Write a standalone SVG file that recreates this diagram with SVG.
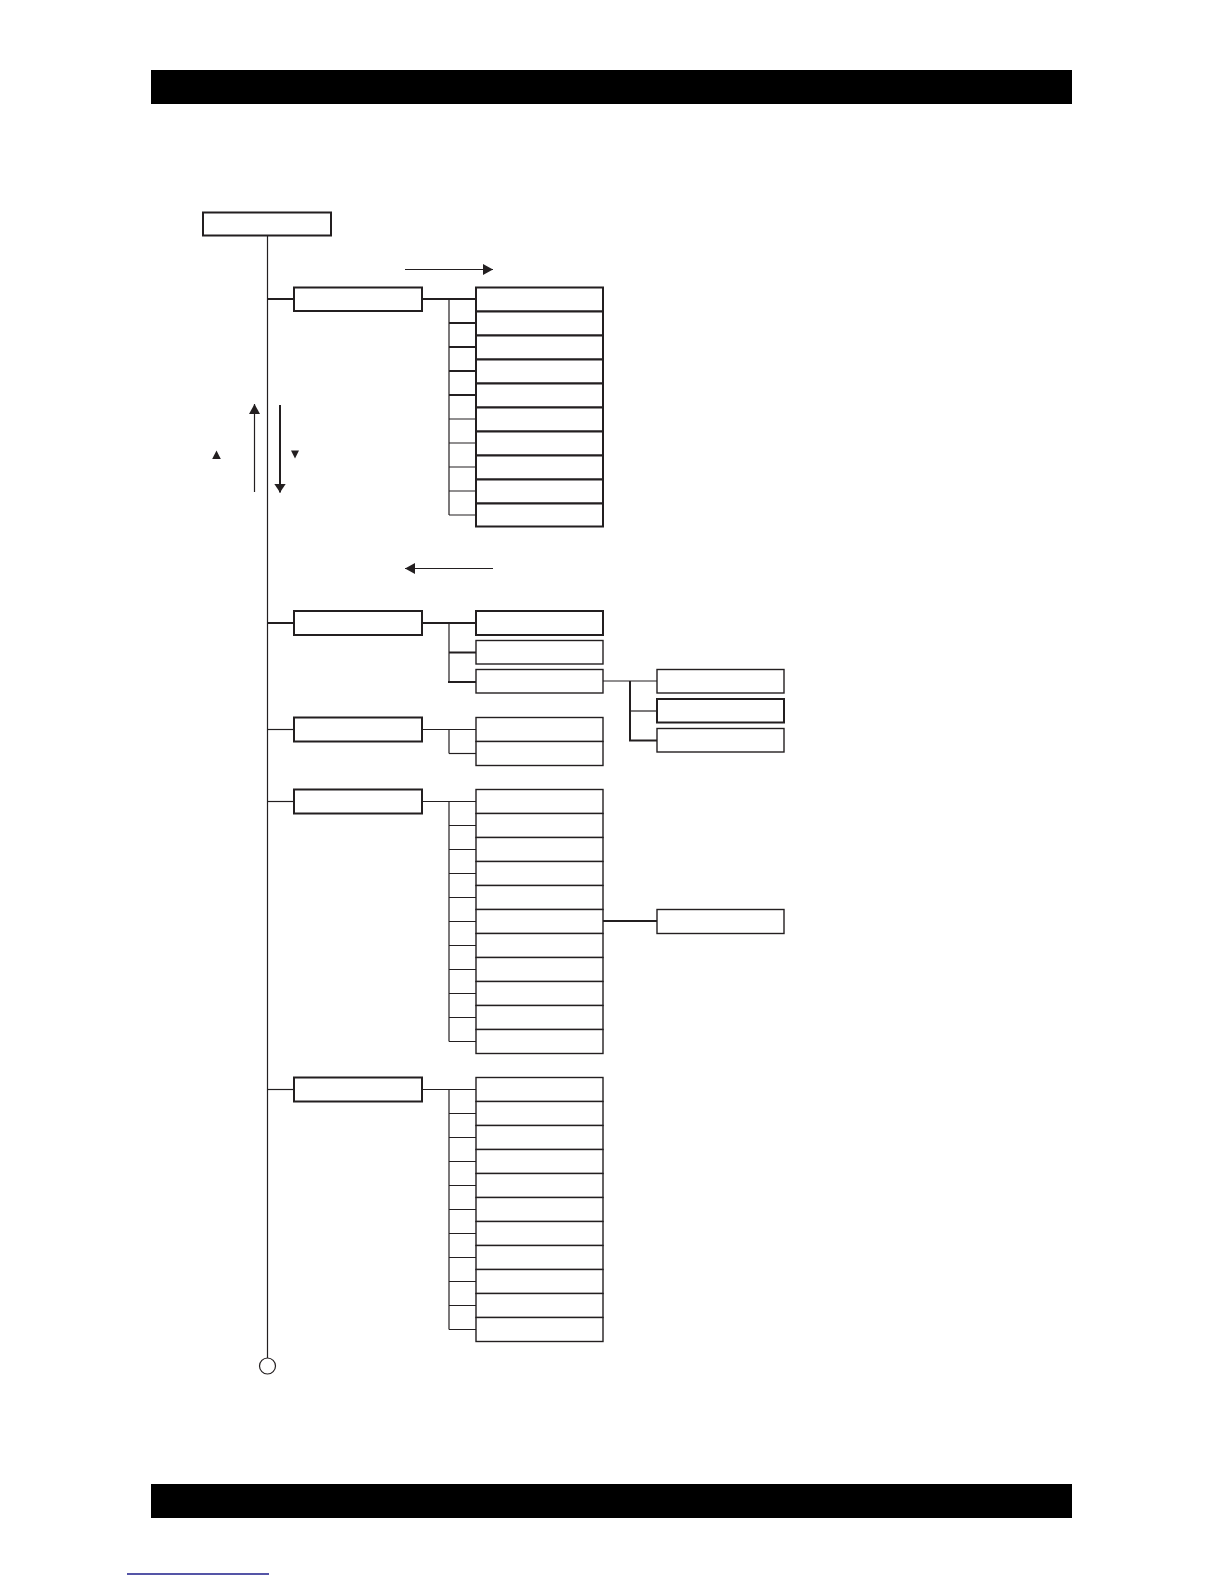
<svg xmlns="http://www.w3.org/2000/svg" width="1224" height="1584" viewBox="0 0 1224 1584">
<style>
.b{fill:#fff;stroke:#231f20;stroke-width:2}
.c{fill:#fff;stroke:#231f20;stroke-width:1.4}
.ck{fill:#fff;stroke:#231f20;stroke-width:2}
.l{stroke:#231f20;stroke-width:1.2;fill:none}
.lk{stroke:#231f20;stroke-width:2;fill:none}
.bar{fill:#000}
</style>
<defs>
<marker id="ah" markerWidth="10" markerHeight="11" refX="10" refY="5.5" orient="auto" markerUnits="userSpaceOnUse">
<path d="M0,0 L10,5.5 L0,11 Z" fill="#231f20"/>
</marker>
<marker id="ah2" markerWidth="9" markerHeight="12" refX="9" refY="6" orient="auto" markerUnits="userSpaceOnUse">
<path d="M0,0 L9,6 L0,12 Z" fill="#231f20"/>
</marker>
</defs>
<rect class="bar" x="151" y="70" width="921" height="34"/>
<rect class="bar" x="151" y="1484" width="921" height="34"/>
<line x1="127" y1="1574" x2="269" y2="1574" stroke="#1c1c8a" stroke-width="1.3"/>

<g id="connectors">
<line class="l" x1="267.5" y1="236" x2="267.5" y2="1358"/>
<circle cx="267.5" cy="1366" r="8" fill="#fff" stroke="#231f20" stroke-width="1.2"/>
<!-- group 1 -->
<line class="lk" x1="267.5" y1="299" x2="294" y2="299"/>
<line class="lk" x1="422" y1="299" x2="476" y2="299"/>
<line class="l" x1="449" y1="299" x2="449" y2="515"/>
<path class="lk" d="M449,323H476M449,347H476M449,371H476M449,395H476"/>
<path class="l" d="M449,419H476M449,443H476M449,467H476M449,491H476M449,515H476"/>
<!-- arrows -->
<line class="l" x1="405" y1="269.5" x2="493" y2="269.5" marker-end="url(#ah)"/>
<line class="l" x1="493" y1="568.5" x2="405" y2="568.5" marker-end="url(#ah)"/>
<line class="l" x1="254.5" y1="492" x2="254.5" y2="404" marker-end="url(#ah)"/>
<line class="lk" x1="280" y1="405" x2="280" y2="492.5" marker-end="url(#ah2)"/>
<path d="M216.5,450.5 L220.8,459 L212.2,459 Z" fill="#231f20"/>
<path d="M295,458.5 L299,450.5 L291,450.5 Z" fill="#231f20"/>
<!-- group 2 -->
<line class="lk" x1="267.5" y1="623" x2="294" y2="623"/>
<line class="lk" x1="422" y1="623" x2="476" y2="623"/>
<line class="l" x1="449" y1="623" x2="449" y2="682"/>
<path class="lk" d="M449,652.5H476M448,682H476"/>
<line class="l" x1="603" y1="681" x2="657" y2="681"/>
<line class="lk" x1="630" y1="681" x2="630" y2="741"/>
<path class="l" d="M630,711H657"/>
<path class="lk" d="M629,740.5H657"/>
<!-- group 3 -->
<line class="l" x1="267.5" y1="729.5" x2="294" y2="729.5"/>
<line class="l" x1="422" y1="729.5" x2="476" y2="729.5"/>
<line class="l" x1="449" y1="729.5" x2="449" y2="753.5"/>
<path class="l" d="M449,753.5H476"/>
<!-- group 4 -->
<line class="l" x1="267.5" y1="801.5" x2="294" y2="801.5"/>
<line class="l" x1="422" y1="801.5" x2="476" y2="801.5"/>
<line class="l" x1="449" y1="801.5" x2="449" y2="1041.5"/>
<path class="l" d="M449,825.5H476M449,849.5H476M449,873.5H476M449,897.5H476M449,921.5H476M449,945.5H476M449,969.5H476M449,993.5H476M449,1017.5H476M449,1041.5H476"/>
<line class="lk" x1="603" y1="921" x2="657" y2="921"/>
<!-- group 5 -->
<line class="l" x1="267.5" y1="1089.5" x2="294" y2="1089.5"/>
<line class="l" x1="422" y1="1089.5" x2="476" y2="1089.5"/>
<line class="l" x1="449" y1="1089.5" x2="449" y2="1329.5"/>
<path class="l" d="M449,1113.5H476M449,1137.5H476M449,1161.5H476M449,1185.5H476M449,1209.5H476M449,1233.5H476M449,1257.5H476M449,1281.5H476M449,1305.5H476M449,1329.5H476"/>
</g>

<g id="root"><rect class="b" x="203" y="212.5" width="128" height="23"/></g>

<g id="n1"><rect class="b" x="294" y="287.5" width="128" height="23.5"/></g>
<g id="n1-children">
<rect class="ck" x="476" y="287.5" width="127" height="24"/>
<rect class="ck" x="476" y="311.5" width="127" height="24"/>
<rect class="ck" x="476" y="335.5" width="127" height="24"/>
<rect class="ck" x="476" y="359.5" width="127" height="24"/>
<rect class="ck" x="476" y="383.5" width="127" height="24"/>
<rect class="ck" x="476" y="407.5" width="127" height="24"/>
<rect class="ck" x="476" y="431.5" width="127" height="24"/>
<rect class="ck" x="476" y="455.5" width="127" height="24"/>
<rect class="ck" x="476" y="479.5" width="127" height="24"/>
<rect class="ck" x="476" y="503.5" width="127" height="23"/>
</g>

<g id="n2"><rect class="b" x="294" y="611" width="128" height="24"/></g>
<g id="n2-children">
<rect class="ck" x="476" y="611" width="127" height="24"/>
<rect class="c" x="476" y="640.5" width="127" height="23.5"/>
<rect class="c" x="476" y="669.5" width="127" height="23.5"/>
</g>
<g id="n2-grandchildren">
<rect class="c" x="657" y="669.5" width="127" height="23.5"/>
<rect class="ck" x="657" y="699" width="127" height="23.5"/>
<rect class="c" x="657" y="728.5" width="127" height="23.5"/>
</g>

<g id="n3"><rect class="b" x="294" y="717.5" width="128" height="24"/></g>
<g id="n3-children">
<rect class="c" x="476" y="717.5" width="127" height="24"/>
<rect class="c" x="476" y="741.5" width="127" height="24"/>
</g>

<g id="n4"><rect class="b" x="294" y="789.5" width="128" height="24"/></g>
<g id="n4-children">
<rect class="c" x="476" y="789.5" width="127" height="24"/>
<rect class="c" x="476" y="813.5" width="127" height="24"/>
<rect class="c" x="476" y="837.5" width="127" height="24"/>
<rect class="c" x="476" y="861.5" width="127" height="24"/>
<rect class="c" x="476" y="885.5" width="127" height="24"/>
<rect class="c" x="476" y="909.5" width="127" height="24"/>
<rect class="c" x="476" y="933.5" width="127" height="24"/>
<rect class="c" x="476" y="957.5" width="127" height="24"/>
<rect class="c" x="476" y="981.5" width="127" height="24"/>
<rect class="c" x="476" y="1005.5" width="127" height="24"/>
<rect class="c" x="476" y="1029.5" width="127" height="24"/>
</g>
<g id="n4-extra"><rect class="c" x="657" y="909.5" width="127" height="24"/></g>

<g id="n5"><rect class="b" x="294" y="1077.5" width="128" height="24"/></g>
<g id="n5-children">
<rect class="c" x="476" y="1077.5" width="127" height="24"/>
<rect class="c" x="476" y="1101.5" width="127" height="24"/>
<rect class="c" x="476" y="1125.5" width="127" height="24"/>
<rect class="c" x="476" y="1149.5" width="127" height="24"/>
<rect class="c" x="476" y="1173.5" width="127" height="24"/>
<rect class="c" x="476" y="1197.5" width="127" height="24"/>
<rect class="c" x="476" y="1221.5" width="127" height="24"/>
<rect class="c" x="476" y="1245.5" width="127" height="24"/>
<rect class="c" x="476" y="1269.5" width="127" height="24"/>
<rect class="c" x="476" y="1293.5" width="127" height="24"/>
<rect class="c" x="476" y="1317.5" width="127" height="24"/>
</g>
</svg>
